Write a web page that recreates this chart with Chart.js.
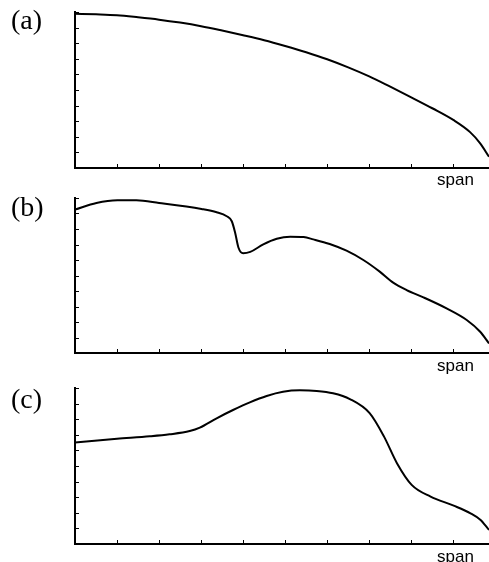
<!DOCTYPE html>
<html lang="en">
<head>
    <meta charset="UTF-8">
    <title>Span profiles</title>
    <script src="https://cdn.jsdelivr.net/npm/chart.js"></script>
    <style>
        body {
            margin: 0;
            padding: 0;
            background: #fff;
            width: 489px;
            height: 562px;
            position: relative;
            overflow: hidden;
        }
        .panel {
            position: absolute;
            left: 0;
        }
        .tag {
            position: absolute;
            left: 11px;
            font-family: "Liberation Serif", "Times New Roman", serif;
            font-size: 28px;
            line-height: 28px;
            color: #000;
        }
        .span-label {
            position: absolute;
            left: 437px;
            font-family: "Liberation Sans", Arial, sans-serif;
            font-size: 17px;
            line-height: 17px;
            color: #000;
        }
    </style>
</head>
<body>
    <div class="panel" style="top:0px"><canvas id="chartA" width="489" height="170"></canvas></div>
    <div class="panel" style="top:186px"><canvas id="chartB" width="489" height="170"></canvas></div>
    <div class="panel" style="top:376px"><canvas id="chartC" width="489" height="170"></canvas></div>

    <div class="tag" style="top:6px">(a)</div>
    <div class="tag" style="top:193px">(b)</div>
    <div class="tag" style="top:385px">(c)</div>

    <div class="span-label" style="top:171px">span</div>
    <div class="span-label" style="top:357px">span</div>
    <div class="span-label" style="top:548px">span</div>

    <script>
        // values (x in tick units, y in tick units 0-10)
        const xMax = 9.85;
        const yTicks = [0, 1, 2, 3, 4, 5, 6, 7, 8, 9, 10];
        const xTicks = [0, 1, 2, 3, 4, 5, 6, 7, 8, 9];

        const spanA = [0, 0.5, 1, 1.5, 2, 2.5, 3, 3.5, 4, 4.5, 5, 5.5, 6, 6.5, 7, 7.5, 8, 8.5, 9, 9.4, 9.64, 9.85];
        const valuesA = [9.89, 9.85, 9.79, 9.66, 9.51, 9.32, 9.09, 8.81, 8.51, 8.19, 7.82, 7.42, 6.97, 6.45, 5.87, 5.21, 4.53, 3.83, 3.08, 2.3, 1.58, 0.72];

        const spanB = [0, 0.51, 1.01, 1.46, 2.0, 3.01, 3.37, 3.61, 3.73, 3.81, 3.89, 4.0, 4.17, 4.48, 4.8, 5.12, 5.44, 5.67, 6.06, 6.46, 6.86, 7.25, 7.57, 7.89, 8.29, 8.84, 9.32, 9.64, 9.85];
        const valuesB = [9.25, 9.68, 9.85, 9.85, 9.68, 9.29, 9.08, 8.82, 8.5, 7.76, 6.79, 6.43, 6.52, 7.01, 7.37, 7.5, 7.48, 7.33, 7.03, 6.6, 6.0, 5.25, 4.54, 4.06, 3.59, 2.88, 2.13, 1.37, 0.62];

        const spanC = [0, 1, 1.78, 2.25, 2.73, 2.97, 3.37, 3.76, 4.16, 4.56, 4.95, 5.35, 5.75, 6.14, 6.54, 7.01, 7.35, 7.66, 8.01, 8.46, 9.01, 9.41, 9.65, 9.85];
        const valuesC = [6.51, 6.74, 6.9, 7.03, 7.24, 7.46, 8.06, 8.59, 9.08, 9.49, 9.76, 9.85, 9.81, 9.66, 9.29, 8.39, 6.9, 5.18, 3.79, 3.04, 2.46, 1.97, 1.54, 0.9];

        // small tick marks pointing into the plot
        const innerTicks = {
            id: 'innerTicks',
            afterDraw(chart) {
                const { ctx, chartArea, scales: { x, y } } = chart;
                ctx.save();
                ctx.strokeStyle = '#000';
                ctx.lineWidth = 1;
                ctx.beginPath();
                xTicks.forEach(v => {
                    const px = Math.round(x.getPixelForValue(v)) + 0.5;
                    ctx.moveTo(px, chartArea.bottom);
                    ctx.lineTo(px, chartArea.bottom - 4);
                });
                yTicks.forEach(v => {
                    const py = Math.round(y.getPixelForValue(v)) + 0.5;
                    ctx.moveTo(chartArea.left, py);
                    ctx.lineTo(chartArea.left + 4, py);
                });
                ctx.stroke();
                ctx.restore();
            }
        };

        function makePanel(id, xs, ys, padBottom) {
            const points = xs.map((v, i) => ({ x: v, y: ys[i] }));
            new Chart(document.getElementById(id), {
                type: 'line',
                data: {
                    datasets: [{
                        data: points,
                        borderColor: '#000',
                        borderWidth: 2,
                        pointRadius: 0,
                        fill: false,
                        cubicInterpolationMode: 'monotone'
                    }]
                },
                options: {
                    responsive: false,
                    animation: false,
                    layout: { padding: { left: 75, top: 12, right: 0, bottom: padBottom } },
                    plugins: { legend: { display: false }, tooltip: { enabled: false } },
                    scales: {
                        x: {
                            type: 'linear',
                            min: 0,
                            max: xMax,
                            ticks: { display: false, stepSize: 1, includeBounds: false },
                            grid: { display: false, drawTicks: false },
                            border: { display: true, color: '#000', width: 2 }
                        },
                        y: {
                            min: 0,
                            max: 10,
                            ticks: { display: false, stepSize: 1 },
                            grid: { display: false, drawTicks: false },
                            border: { display: true, color: '#000', width: 2 }
                        }
                    }
                },
                plugins: [innerTicks]
            });
        }

        makePanel('chartA', spanA, valuesA, 2);
        makePanel('chartB', spanB, valuesB, 3);
        makePanel('chartC', spanC, valuesC, 2);
    </script>
</body>
</html>
